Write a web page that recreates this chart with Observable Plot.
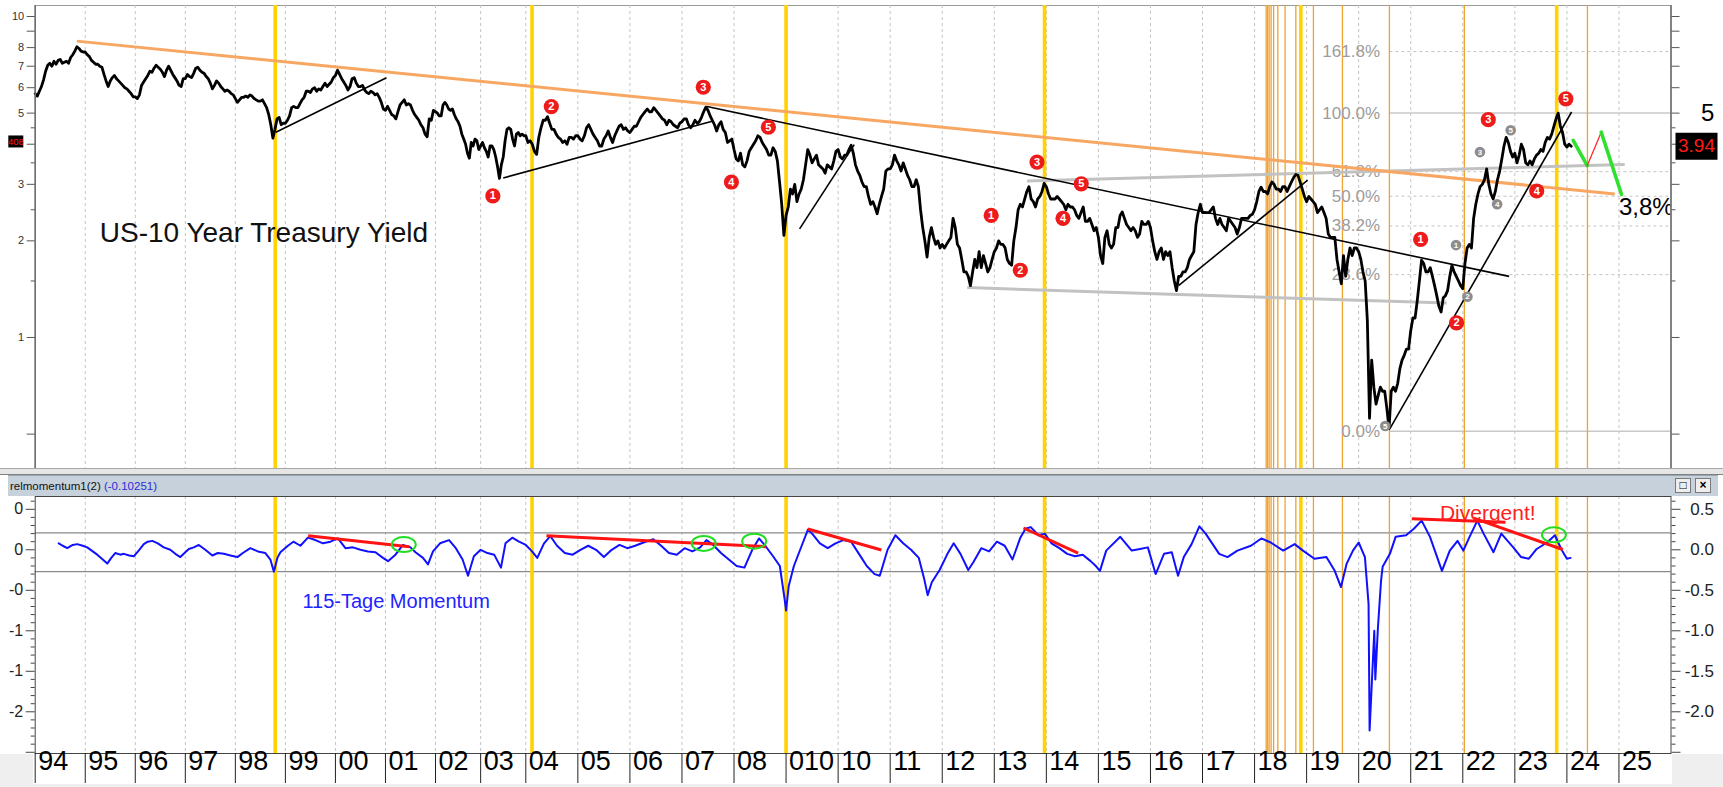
<!DOCTYPE html>
<html lang="de">
<head>
<meta charset="utf-8">
<title>US-10 Year Treasury Yield</title>
<script src="https://cdn.jsdelivr.net/npm/d3@7"></script>
<script src="https://cdn.jsdelivr.net/npm/@observablehq/plot@0.6"></script>
<style>
  html, body { margin: 0; padding: 0; background: #fff; }
  #chart { position: relative; width: 1723px; height: 787px; overflow: hidden; background: #fff;
           font-family: "Liberation Sans", Arial, Helvetica, sans-serif; }
  #chart > div { position: absolute; }
  #top { left: 0; top: 0; }
  #bottom { left: 0; top: 496px; }
  #gap { left: 0; top: 468px; width: 1723px; height: 7px; background: #e6e6e6;
         border-top: 1px solid #a8a8a8; border-bottom: 1px solid #808080; box-sizing: border-box; }
  #header { left: 8px; top: 475px; width: 1710px; height: 21px; background: #c6d1dc;
            border-top: 1px solid #9aa6b2; box-sizing: border-box; font-size: 11.5px; line-height: 20px;
            padding-left: 2px; color: #111; white-space: nowrap; }
  #header .val { color: #2b2bd9; }
  #header .btn { position: absolute; top: 2px; width: 16px; height: 15px; background: #eeeeee;
                 border: 1px solid #7a7a7a; box-sizing: border-box; font-size: 12px; line-height: 13px;
                 text-align: center; color: #000; }
  .strip { background: #efefef; }
</style>
</head>
<body>
<div id="chart">
  <div id="top"></div>
  <div id="gap"></div>
  <div id="header">relmomentum1(2) <span class="val">(-0.10251)</span>
    <span class="btn" style="left:1667px">&#9633;</span><span class="btn" style="left:1687px;font-weight:bold">&#215;</span>
  </div>
  <div id="bottom"></div>
  <div class="strip" style="left:0;top:754px;width:33px;height:33px"></div>
  <div class="strip" style="left:1672px;top:754px;width:51px;height:33px"></div>
  <div class="strip" style="left:0;top:784px;width:1723px;height:3px"></div>
</div>
<script>
// ---------------------------------------------------------------------------
// Data
// ---------------------------------------------------------------------------

// US 10-year Treasury yield (%), two readings per month (1st and 16th)
const yieldYears = [1994, 1995, 1996, 1997, 1998, 1999, 2000, 2001, 2002, 2003, 2004, 2005, 2006, 2007, 2008,
  2009, 2010, 2011, 2012, 2013, 2014, 2015, 2016, 2017, 2018, 2019, 2020, 2021, 2022, 2023, 2024];
const yieldHalfMonthly = [
  [5.75,5.65,5.85,6.05,6.35,6.75,7.05,7.15,7.0,7.25,7.1,7.3,7.35,7.15,7.2,7.25,7.15,7.45,7.6,7.8,8.05,7.95,7.8,7.75],
  [7.75,7.6,7.5,7.3,7.2,7.1,7.1,7.0,6.95,6.6,6.3,6.05,6.3,6.45,6.55,6.4,6.3,6.2,6.1,6.0,5.95,5.85,5.75,5.62],
  [5.62,5.55,5.7,6.1,6.25,6.4,6.55,6.75,6.7,6.9,7.05,6.95,6.85,6.7,6.5,6.8,7.0,6.8,6.6,6.45,6.3,6.1,6.05,6.4],
  [6.4,6.6,6.5,6.45,6.65,6.9,6.95,6.8,6.7,6.65,6.5,6.4,6.2,5.95,6.1,6.3,6.2,6.05,5.95,5.85,5.9,5.85,5.75,5.7],
  [5.55,5.4,5.5,5.6,5.6,5.65,5.6,5.7,5.65,5.55,5.5,5.45,5.45,5.5,5.35,5.2,4.95,4.6,4.18,4.45,4.8,4.85,4.6,4.65],
  [4.65,4.75,4.9,5.2,5.25,5.2,5.2,5.35,5.5,5.6,5.85,5.85,5.8,5.95,6.0,5.85,5.95,5.9,6.05,6.2,6.05,6.15,6.25,6.45],
  [6.55,6.8,6.6,6.4,6.25,6.1,5.9,6.05,6.4,6.45,6.2,6.05,6.05,6.1,5.9,5.8,5.75,5.85,5.8,5.7,5.75,5.6,5.4,5.15],
  [5.1,5.25,5.1,4.95,4.9,4.8,5.05,5.3,5.4,5.5,5.3,5.35,5.3,5.1,4.95,4.85,4.75,4.6,4.5,4.3,4.22,4.8,4.75,5.1],
  [5.05,5.0,4.9,4.9,5.3,5.4,5.3,5.15,5.1,5.15,4.95,4.8,4.7,4.55,4.3,4.15,4.0,3.75,3.62,4.05,3.95,4.15,4.1,3.85],
  [3.95,4.05,3.9,3.8,3.65,3.95,3.95,3.85,3.65,3.4,3.13,3.45,3.65,4.1,4.45,4.5,4.45,4.15,3.95,4.3,4.35,4.25,4.3,4.25],
  [4.25,4.05,4.1,4.0,3.8,3.72,4.2,4.5,4.75,4.75,4.87,4.65,4.45,4.45,4.3,4.2,4.15,4.05,4.1,4.0,4.2,4.2,4.15,4.25],
  [4.25,4.15,4.1,4.25,4.5,4.6,4.45,4.3,4.2,4.1,3.95,3.95,4.15,4.25,4.4,4.2,4.05,4.25,4.4,4.55,4.6,4.45,4.5,4.4],
  [4.35,4.45,4.55,4.55,4.7,4.85,4.95,5.05,5.15,5.05,5.05,5.2,5.1,5.0,4.9,4.8,4.75,4.6,4.75,4.7,4.6,4.55,4.5,4.65],
  [4.7,4.8,4.8,4.6,4.5,4.6,4.75,4.65,4.7,4.85,5.05,5.22,5.1,4.9,4.75,4.6,4.4,4.6,4.7,4.45,4.35,4.05,4.1,4.15],
  [3.85,3.6,3.55,3.75,3.45,3.4,3.55,3.8,3.9,4.0,4.1,4.25,4.2,4.05,3.95,3.85,3.7,3.7,3.9,3.8,3.55,3.05,2.6,2.08],
  [2.4,2.55,2.9,2.8,3.0,2.65,2.8,2.9,3.1,3.45,3.85,3.7,3.5,3.6,3.7,3.45,3.4,3.35,3.25,3.45,3.4,3.35,3.55,3.8],
  [3.85,3.65,3.6,3.7,3.7,3.85,3.97,3.75,3.45,3.3,3.2,3.05,2.95,2.95,2.75,2.6,2.65,2.55,2.43,2.6,2.75,2.9,3.3,3.35],
  [3.35,3.45,3.7,3.55,3.45,3.3,3.5,3.35,3.2,3.1,2.95,2.95,3.1,2.95,2.5,2.2,2.0,1.78,2.05,2.2,2.05,1.95,2.0,1.9],
  [1.95,1.9,1.95,2.0,2.05,2.35,2.2,1.95,1.9,1.75,1.6,1.6,1.55,1.45,1.6,1.75,1.65,1.85,1.65,1.8,1.7,1.6,1.65,1.75],
  [1.85,1.9,2.0,1.95,1.95,1.9,1.75,1.7,1.68,2.0,2.2,2.5,2.6,2.55,2.7,2.85,2.95,2.7,2.65,2.55,2.7,2.75,2.85,3.02],
  [2.95,2.8,2.7,2.7,2.7,2.75,2.7,2.65,2.6,2.5,2.6,2.55,2.55,2.5,2.4,2.35,2.45,2.55,2.3,2.3,2.35,2.25,2.15,2.2],
  [2.05,1.8,1.7,2.05,2.15,1.95,1.9,1.95,2.2,2.2,2.4,2.46,2.35,2.25,2.2,2.15,2.2,2.15,2.05,2.1,2.3,2.25,2.25,2.3],
  [2.2,2.0,1.85,1.75,1.85,1.9,1.75,1.85,1.8,1.85,1.65,1.5,1.4,1.55,1.55,1.6,1.6,1.65,1.75,1.8,1.85,2.25,2.45,2.6],
  [2.45,2.45,2.45,2.45,2.5,2.55,2.35,2.25,2.35,2.25,2.2,2.15,2.35,2.3,2.25,2.2,2.1,2.2,2.35,2.35,2.35,2.35,2.4,2.42],
  [2.5,2.65,2.85,2.94,2.85,2.85,2.8,2.95,3.05,3.0,2.9,2.9,2.85,2.95,2.95,2.85,2.95,3.05,3.15,3.22,3.2,3.05,2.9,2.75],
  [2.65,2.75,2.7,2.65,2.6,2.45,2.5,2.55,2.45,2.35,2.1,2.05,2.05,2.05,1.75,1.6,1.47,1.8,1.55,1.75,1.9,1.8,1.9,1.9],
  [1.85,1.75,1.6,1.5,1.13,0.56,0.85,0.7,0.62,0.66,0.7,0.68,0.68,0.6,0.52,0.68,0.7,0.68,0.72,0.8,0.85,0.88,0.92,0.92],
  [1.05,1.15,1.15,1.3,1.5,1.74,1.7,1.6,1.6,1.65,1.55,1.45,1.35,1.25,1.2,1.33,1.35,1.4,1.55,1.68,1.6,1.55,1.5,1.45],
  [1.42,1.7,1.9,1.95,1.9,2.35,2.6,2.8,2.95,3.0,3.1,3.35,3.0,2.8,2.7,2.85,3.1,3.3,3.6,3.95,4.2,4.05,3.8,3.65],
  [3.75,3.5,3.7,4.0,3.85,3.5,3.45,3.55,3.45,3.6,3.7,3.75,3.85,3.8,4.05,4.2,4.15,4.3,4.55,4.8,5.0,4.55,4.35,4.0],
  [3.92,4.0,3.94]
];

// Relative momentum (115 days), read as time / value pairs
const momentumTime = [
  1994.47,1994.55,1994.64,1994.75,1994.84,1994.95,1995.04,1995.15,1995.24,1995.35,1995.44,1995.52,1995.6,1995.7,
  1995.77,1995.88,1995.97,1996.08,1996.17,1996.25,1996.34,1996.45,1996.57,1996.7,1996.8,1996.9,1997.0,1997.07,
  1997.17,1997.27,1997.4,1997.54,1997.65,1997.77,1997.9,1998.04,1998.15,1998.3,1998.45,1998.6,1998.7,1998.77,
  1998.84,1998.9,1999.05,1999.16,1999.3,1999.45,1999.6,1999.75,1999.9,2000.05,2000.2,2000.35,2000.5,2000.65,
  2000.8,2000.95,2001.05,2001.2,2001.35,2001.5,2001.6,2001.75,2001.85,2001.95,2002.1,2002.3,2002.45,2002.6,
  2002.72,2002.85,2003.0,2003.15,2003.3,2003.45,2003.55,2003.7,2003.85,2004.0,2004.12,2004.22,2004.35,2004.47,
  2004.6,2004.75,2004.9,2005.05,2005.2,2005.35,2005.5,2005.65,2005.8,2005.95,2006.1,2006.3,2006.45,2006.6,
  2006.75,2006.9,2007.05,2007.2,2007.35,2007.47,2007.6,2007.75,2007.9,2008.05,2008.2,2008.35,2008.48,2008.6,
  2008.75,2008.88,2008.97,2009.0,2009.05,2009.15,2009.3,2009.42,2009.5,2009.65,2009.8,2009.95,2010.1,2010.25,
  2010.4,2010.55,2010.7,2010.8,2010.95,2011.1,2011.25,2011.4,2011.55,2011.65,2011.72,2011.8,2011.95,2012.1,
  2012.22,2012.35,2012.5,2012.6,2012.75,2012.9,2013.05,2013.2,2013.35,2013.5,2013.6,2013.7,2013.85,2013.97,
  2014.1,2014.25,2014.4,2014.55,2014.7,2014.85,2014.95,2015.03,2015.15,2015.42,2015.64,2015.8,2015.95,2016.1,
  2016.26,2016.41,2016.53,2016.64,2016.79,2016.94,2017.06,2017.32,2017.48,2017.67,2017.93,2018.13,2018.31,
  2018.55,2018.77,2018.93,2019.15,2019.38,2019.54,2019.66,2019.77,2019.89,2020.0,2020.12,2020.19,2020.21,
  2020.3,2020.32,2020.37,2020.43,2020.46,2020.6,2020.71,2020.91,2021.06,2021.21,2021.37,2021.6,2021.75,2021.9,
  2022.01,2022.13,2022.28,2022.4,2022.59,2022.74,2022.97,2023.12,2023.27,2023.42,2023.62,2023.77,2023.89,
  2024.0,2024.07
];
const momentumValue = [
  0.08,0.05,0.02,0.06,0.07,0.05,0.03,-0.02,-0.06,-0.12,-0.17,-0.1,-0.04,-0.06,
  -0.05,-0.07,-0.08,0.0,0.07,0.1,0.11,0.08,0.03,0.0,-0.05,-0.09,-0.03,0.01,
  0.03,0.06,0.0,-0.07,-0.04,-0.05,-0.07,-0.09,-0.04,0.02,-0.02,-0.04,-0.12,-0.27,
  -0.1,-0.03,0.05,0.1,0.05,0.15,0.12,0.08,0.1,0.14,0.02,0.03,0.0,-0.02,
  -0.03,-0.1,-0.14,-0.06,0.06,0.03,-0.03,-0.1,-0.18,-0.02,0.08,0.12,0.02,-0.12,
  -0.32,-0.08,0.0,-0.04,-0.06,-0.22,0.08,0.15,0.1,0.06,-0.02,-0.1,0.08,0.17,
  0.05,-0.04,-0.06,0.0,0.05,0.0,-0.09,0.0,0.06,0.02,0.05,0.1,0.13,0.05,
  -0.04,-0.06,0.02,-0.02,0.03,0.12,0.06,-0.04,-0.12,-0.2,-0.22,0.0,0.14,0.05,
  -0.08,-0.2,-0.6,-0.75,-0.45,-0.2,0.05,0.25,0.2,0.08,0.02,0.08,0.12,0.1,
  -0.05,-0.2,-0.3,-0.32,0.0,0.18,0.08,0.0,-0.1,-0.35,-0.56,-0.4,-0.25,-0.05,
  0.08,-0.05,-0.25,-0.15,0.02,-0.02,0.1,0.05,-0.12,0.15,0.26,0.28,0.18,0.2,
  0.08,0.02,-0.05,-0.08,-0.06,-0.14,-0.2,-0.26,-0.01,0.16,-0.01,0.01,0.03,-0.3,
  -0.05,-0.03,-0.32,-0.09,0.07,0.29,0.2,-0.05,-0.09,-0.01,0.05,0.14,0.09,
  -0.01,0.07,-0.01,-0.11,-0.09,-0.26,-0.46,-0.17,-0.01,0.09,-0.09,-0.67,-2.23,
  -1.0,-1.6,-0.96,-0.38,-0.21,-0.05,0.16,0.18,0.26,0.36,0.16,-0.26,-0.01,0.11,
  -0.01,0.16,0.36,0.2,-0.03,0.2,0.03,-0.09,-0.11,0.01,0.09,0.18,0.01,
  -0.11,-0.10
];

// Calendar axis
const yearStarts = [1994,1995,1996,1997,1998,1999,2000,2001,2002,2003,2004,2005,2006,2007,2008,2009,
  2010,2011,2012,2013,2014,2015,2016,2017,2018,2019,2020,2021,2022,2023,2024,2025];
const yearLabels = ["94","95","96","97","98","99","00","01","02","03","04","05","06","07","08","010",
  "10","11","12","13","14","15","16","17","18","19","20","21","22","23","24","25"];

// Cycle markers
const cycleMajor = [1998.796, 2004.12, 2009.0, 2013.965, 2018.889, 2023.804];
const cycleMinor = [2018.223, 2018.251, 2018.28, 2018.318, 2018.366, 2018.447, 2018.587, 2018.793,
  2019.131, 2019.688, 2020.59, 2022.03, 2024.395];

// Yield axis ticks
const yieldTicks = [10, 9, 8, 7, 6, 5, 4, 3, 2, 1, 0.5];
const yieldTickLabels = ["10", "9", "8", "7", "6", "5", "", "3", "2", "1", ""];
const yieldMinorTicks = [4.5, 3.5, 2.5, 1.5];

// Momentum axis ticks
const momTicks = [0.5, 0, -0.5, -1, -1.5, -2, -2.5];
const momTicksLeft = ["0", "0", "-0", "-1", "-1", "-2", ""];
const momTicksRight = ["0.5", "0.0", "-0.5", "-1.0", "-1.5", "-2.0", ""];
const momBands = [0.21, -0.27];

// Fibonacci retracement of the 2020–2023 advance
const fibLow = 0.51, fibHigh = 5.0;
const fibRatios = [0, 0.236, 0.382, 0.5, 0.618, 1, 1.618];

// Trend lines: [t1, v1, t2, v2]
const blackTrends = [
  [1998.81, 4.36, 2001.02, 6.44],
  [2003.50, 3.14, 2007.58, 4.72],
  [2007.48, 5.24, 2022.89, 1.55],
  [2009.26, 2.18, 2010.31, 3.99],
  [2016.54, 1.45, 2019.02, 3.09],
  [2020.60, 0.52, 2024.09, 5.04]
];
const grayTrends = [
  [2012.48, 1.43, 2021.69, 1.28],
  [2013.63, 3.07, 2025.11, 3.46]
];
const orangeTrend = [[1994.835, 8.38, 2024.92, 2.80]];

// Projected path after the 2023 top
const projTime = [2024.12, 2024.39, 2024.66, 2025.05];
const projLevel = [4.11, 3.43, 4.36, 2.79];

// Elliott wave counts
const waveLabel = ["1","2","3","4","5","1","2","3","4","5","1","2","3","4","5"];
const waveTime = [2003.27,2004.49,2007.41,2007.95,2008.66,2012.94,2013.50,2013.82,2014.32,2014.67,
  2021.19,2021.88,2022.49,2023.42,2023.98];
const waveLevel = [2.76,5.24,6.02,3.05,4.52,2.40,1.62,3.52,2.35,3.01,2.02,1.11,4.77,2.86,5.54];
const subWaveLabel = ["5","1","2","3","4","5"];
const subWaveTime = [2020.51,2021.87,2022.09,2022.33,2022.66,2022.92];
const subWaveLevel = [0.53,1.94,1.34,3.78,2.60,4.42];

// Momentum divergences: [t1, v1, t2, v2]
const momDivergences = [
  [1999.455, 0.174, 2001.476, 0.038],
  [2004.397, 0.174, 2008.62, 0.038],
  [2009.42, 0.256, 2010.83, -0.002],
  [2013.56, 0.269, 2014.61, -0.042],
  [2021.02, 0.383, 2022.82, 0.341],
  [2022.21, 0.39, 2023.92, 0.004]
];
const momCircleTime = [2001.366, 2007.418, 2008.387, 2023.751];
const momCircleLevel = [0.065, 0.079, 0.106, 0.185];

const lastYield = 3.94;
const leftYieldTag = 4.08;
const rightAxisLabel = 5;

// ---------------------------------------------------------------------------
// Derived tables
// ---------------------------------------------------------------------------
const tnx = yieldYears.flatMap((yr, i) => yieldHalfMonthly[i].map((v, k) => ({t: yr + k / 24, v})));
const momentum = momentumTime.map((t, i) => ({t, v: momentumValue[i]}));
const seg = (r) => ({t1: r[0], v1: r[1], t2: r[2], v2: r[3]});
const fib = fibRatios.map(r => ({r, v: fibLow + r * (fibHigh - fibLow)}));
const waves = waveTime.map((t, i) => ({t, v: waveLevel[i], n: waveLabel[i]}));
const subWaves = subWaveTime.map((t, i) => ({t, v: subWaveLevel[i], n: subWaveLabel[i]}));
const projSegs = projTime.slice(1).map((t, i) => ({
  t1: projTime[i], v1: projLevel[i], t2: t, v2: projLevel[i + 1],
  color: i === 1 ? "#ff2a2a" : "#2fe02f", w: i === 1 ? 1.3 : 3.6
}));
const momCircles = momCircleTime.map((t, i) => ({t, v: momCircleLevel[i]}));
const tickLabel = new Map(yieldTicks.map((d, i) => [d, yieldTickLabels[i]]));
const momLeft = new Map(momTicks.map((d, i) => [d, momTicksLeft[i]]));
const momRight = new Map(momTicks.map((d, i) => [d, momTicksRight[i]]));
const momMinor = d3.range(-25, 7).map(i => i / 10).filter(v => Math.round(v * 10) % 5 !== 0);

// ---------------------------------------------------------------------------
// Shared styling
// ---------------------------------------------------------------------------
const FONT = '"Liberation Sans", Arial, Helvetica, sans-serif';
const W = 1723;
const FRAME_RIGHT = 1670.5;
const xOpts = () => ({type: "linear", domain: [1994, 2002, 2004, 2026], range: [34.7, 435, 525.3, FRAME_RIGHT], axis: null});

const boxSymbol = (w, h) => ({draw(ctx) { ctx.rect(-w / 2, -h / 2, w, h); }});
const ellipseSymbol = {
  draw(ctx, size) {
    const r = Math.sqrt(size / Math.PI), rx = r * 1.6, ry = r, k = 0.5523;
    ctx.moveTo(rx, 0);
    ctx.bezierCurveTo(rx, ry * k, rx * k, ry, 0, ry);
    ctx.bezierCurveTo(-rx * k, ry, -rx, ry * k, -rx, 0);
    ctx.bezierCurveTo(-rx, -ry * k, -rx * k, -ry, 0, -ry);
    ctx.bezierCurveTo(rx * k, -ry, rx, -ry * k, rx, 0);
    ctx.closePath();
  }
};

// ---------------------------------------------------------------------------
// Upper panel: yield on a log scale
// ---------------------------------------------------------------------------
const topPlot = Plot.plot({
  width: W, height: 470,
  marginLeft: 34.7, marginRight: W - FRAME_RIGHT, marginTop: 5, marginBottom: 2,
  x: xOpts(),
  y: {type: "log", domain: [0.3907, 10.82], range: [468, 5], axis: null},
  style: {fontFamily: FONT, background: "white", overflow: "visible"},
  marks: [
    Plot.frame({stroke: "#9a9a9a"}),
    Plot.ruleX(yearStarts.slice(1), {stroke: "#c4c4c4", strokeDasharray: "3,3"}),
    Plot.ruleY(fib.filter(d => d.r !== 0 && d.r !== 1), {y: "v", x1: () => 2020.6, x2: () => 2026, stroke: "#c4c4c4", strokeDasharray: "3,3"}),
    Plot.ruleY(fib.filter(d => d.r === 0 || d.r === 1), {y: "v", x1: () => 2020.6, x2: () => 2026, stroke: "#c8c8c8", strokeWidth: 1.5}),
    Plot.ruleX(cycleMinor, {stroke: "#f0a22e", strokeWidth: 1.3}),
    Plot.ruleX(cycleMajor, {stroke: "#ffd200", strokeWidth: 3.6}),
    Plot.text(fib, {x: () => 2020.41, y: "v", text: d => (d.r * 100).toFixed(1) + "%", textAnchor: "end", fill: "#9c9c9c", fontSize: 17}),
    Plot.link(grayTrends.map(seg), {x1: "t1", y1: "v1", x2: "t2", y2: "v2", stroke: "#c2c2c2", strokeWidth: 3}),
    Plot.link(orangeTrend.map(seg), {x1: "t1", y1: "v1", x2: "t2", y2: "v2", stroke: "#f8a762", strokeWidth: 3}),
    Plot.line(tnx, {x: "t", y: "v", stroke: "#000", strokeWidth: 2.8, strokeLinejoin: "round"}),
    Plot.link(blackTrends.map(seg), {x1: "t1", y1: "v1", x2: "t2", y2: "v2", stroke: "#000", strokeWidth: 1.6}),
    Plot.link(projSegs, {x1: "t1", y1: "v1", x2: "t2", y2: "v2", stroke: "color", strokeWidth: "w", strokeLinecap: "round"}),
    Plot.text(["3,8%"], {x: () => 2025.0, y: () => 2.54, text: d => d, textAnchor: "start", fontSize: 24, fill: "#000", clip: true}),
    Plot.dot(subWaves, {x: "t", y: "v", r: 5.3, fill: "#8d8d8d"}),
    Plot.text(subWaves, {x: "t", y: "v", text: "n", fill: "#fff", fontSize: 8, fontWeight: "bold"}),
    Plot.dot(waves, {x: "t", y: "v", r: 7.6, fill: "#ee1b1b"}),
    Plot.text(waves, {x: "t", y: "v", text: "n", fill: "#fff", fontSize: 11, fontWeight: "bold"}),
    Plot.text(["US-10 Year Treasury Yield"], {x: () => 1995.29, y: () => 2.12, text: d => d, textAnchor: "start", fontSize: 28, fill: "#111"}),
    Plot.ruleX([1994, 2026], {stroke: "#707070", strokeWidth: 1.6}),
    Plot.axisY(yieldTicks, {anchor: "left", tickSize: 8, tickPadding: 3, tickFormat: d => tickLabel.get(d), fontSize: 11, color: "#333", stroke: "#555"}),
    Plot.axisY(yieldMinorTicks, {anchor: "left", tickSize: 4, tickFormat: () => "", stroke: "#555"}),
    Plot.axisY(yieldTicks, {anchor: "right", tickSize: 8, tickFormat: () => "", stroke: "#555"}),
    Plot.axisY(yieldMinorTicks, {anchor: "right", tickSize: 4, tickFormat: () => "", stroke: "#555"}),
    Plot.text([rightAxisLabel], {y: d => d, text: d => String(d), frameAnchor: "right", dx: 30, textAnchor: "start", fontSize: 24, fill: "#000"}),
    Plot.dot([lastYield], {y: d => d, frameAnchor: "right", dx: 25.5, symbol: boxSymbol(42, 27), r: 5, fill: "#000"}),
    Plot.text([lastYield], {y: d => d, text: d => d.toFixed(2), frameAnchor: "right", dx: 25.5, textAnchor: "middle", fontSize: 19, fill: "#ff1a1a"}),
    Plot.dot([leftYieldTag], {y: d => d, frameAnchor: "left", dx: -19.4, symbol: boxSymbol(15, 12), r: 3, fill: "#000"}),
    Plot.text([leftYieldTag], {y: d => d, text: () => "408", frameAnchor: "left", dx: -19.4, textAnchor: "middle", fontSize: 9.5, fill: "#ff1a1a"})
  ]
});
document.getElementById("top").appendChild(topPlot);

// ---------------------------------------------------------------------------
// Lower panel: 115-day relative momentum
// ---------------------------------------------------------------------------
const bottomPlot = Plot.plot({
  width: W, height: 291,
  marginLeft: 34.7, marginRight: W - FRAME_RIGHT, marginTop: 0, marginBottom: 34,
  x: xOpts(),
  y: {type: "linear", domain: [-2.515, 0.658], range: [257, 0], axis: null},
  style: {fontFamily: FONT, background: "white", overflow: "visible"},
  marks: [
    Plot.ruleX(yearStarts.slice(1), {stroke: "#c4c4c4", strokeDasharray: "3,3"}),
    Plot.ruleY(momBands, {stroke: "#8a8a8a", strokeWidth: 1.2}),
    Plot.ruleX(cycleMinor, {stroke: "#f0a22e", strokeWidth: 1.3}),
    Plot.ruleX(cycleMajor, {stroke: "#ffd200", strokeWidth: 3.6}),
    Plot.line(momentum, {x: "t", y: "v", stroke: "#1010ff", strokeWidth: 2, strokeLinejoin: "round"}),
    Plot.link(momDivergences.map(seg), {x1: "t1", y1: "v1", x2: "t2", y2: "v2", stroke: "#ff1212", strokeWidth: 3}),
    Plot.dot(momCircles, {x: "t", y: "v", r: 7.5, symbol: ellipseSymbol, stroke: "#22dd22", strokeWidth: 2, fill: "none"}),
    Plot.text(["115-Tage Momentum"], {x: () => 1999.34, y: () => -0.638, text: d => d, textAnchor: "start", fontSize: 20, fill: "#2323ff"}),
    Plot.text(["Divergent!"], {x: () => 2021.56, y: () => 0.448, text: d => d, textAnchor: "start", fontSize: 21, fill: "#ff2020"}),
    Plot.frame({stroke: "#444"}),
    Plot.axisY(momTicks, {anchor: "left", tickSize: 9, tickPadding: 3, tickFormat: d => momLeft.get(d), fontSize: 16, color: "#222", stroke: "#444"}),
    Plot.axisY(momMinor, {anchor: "left", tickSize: 4, tickFormat: () => "", stroke: "#444"}),
    Plot.axisY(momTicks, {anchor: "right", tickSize: 9, tickFormat: () => "", stroke: "#444"}),
    Plot.axisY(momMinor, {anchor: "right", tickSize: 4, tickFormat: () => "", stroke: "#444"}),
    Plot.text(momTicks, {y: d => d, text: d => momRight.get(d), frameAnchor: "right", dx: 43, textAnchor: "end", fontSize: 17, fill: "#222"}),
    Plot.axisX(yearStarts, {anchor: "bottom", tickSize: 30, tickFormat: () => "", stroke: "#222"}),
    Plot.text(yearStarts, {x: d => d, text: (d, i) => yearLabels[i], frameAnchor: "bottom", dy: 16.7, dx: 3, textAnchor: "start", fontSize: 27, fill: "#000"})
  ]
});
document.getElementById("bottom").appendChild(bottomPlot);
</script>
</body>
</html>
